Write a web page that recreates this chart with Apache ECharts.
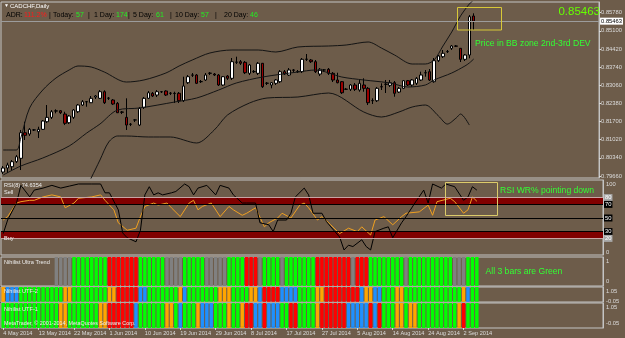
<!DOCTYPE html>
<html>
<head>
<meta charset="utf-8">
<script src="https://cdn.jsdelivr.net/npm/echarts@6/dist/echarts.min.js"></script>
<style>
  html, body { margin: 0; padding: 0; background: #6d5c4a; }
  #chart { width: 625px; height: 338px; }
</style>
</head>
<body>
<div id="chart"></div>
<script>
// ---- data ----
const SLOTS = 136;          // bar slots incl. empty space on the right
const TICK_STEP = 8;        // one date label every 8 bars
const tickLabels = ['4 May 2014', '13 May 2014', '22 May 2014', '1 Jun 2014', '10 Jun 2014', '19 Jun 2014',
  '29 Jun 2014', '8 Jul 2014', '17 Jul 2014', '27 Jul 2014', '5 Aug 2014', '14 Aug 2014', '24 Aug 2014', '2 Sep 2014'];

const opens = [0.79809, 0.79959, 0.80008, 0.80196, 0.80323, 0.81282, 0.81234, 0.81384, 0.81320, 0.81409,
  0.81694, 0.81858, 0.82095, 0.82106, 0.81982, 0.81656, 0.81858, 0.82069, 0.82320, 0.82444,
  0.82406, 0.82620, 0.82571, 0.82819, 0.82571, 0.82508, 0.82384, 0.82058, 0.81858, 0.81596,
  0.81758, 0.81570, 0.82234, 0.82571, 0.82759, 0.82695, 0.82819, 0.82845, 0.82759, 0.82759,
  0.82759, 0.82481, 0.83156, 0.83445, 0.83445, 0.83194, 0.83258, 0.83508, 0.83482, 0.83445,
  0.83070, 0.83407, 0.83321, 0.83921, 0.83944, 0.83921, 0.83508, 0.83569, 0.83508, 0.83884,
  0.83134, 0.83070, 0.83134, 0.83194, 0.83569, 0.83445, 0.83632, 0.83569, 0.83569, 0.84033,
  0.84007, 0.83944, 0.83482, 0.83632, 0.83659, 0.83508, 0.83258, 0.83194, 0.82909, 0.82909,
  0.83070, 0.82883, 0.83070, 0.82946, 0.82481, 0.82481, 0.83006, 0.83096, 0.83059, 0.83156,
  0.82808, 0.82946, 0.83231, 0.83070, 0.83134, 0.83258, 0.83531, 0.83569, 0.83194, 0.83981,
  0.84131, 0.84318, 0.84446, 0.84532, 0.84446, 0.84033, 0.84194, 0.85656];
const closes = [0.79959, 0.80072, 0.80196, 0.80383, 0.81282, 0.81185, 0.81409, 0.81390, 0.81409, 0.81720,
  0.81858, 0.82069, 0.82100, 0.82031, 0.81634, 0.81907, 0.82133, 0.82320, 0.82444, 0.82440,
  0.82571, 0.82658, 0.82819, 0.82406, 0.82580, 0.82358, 0.82031, 0.82050, 0.81570, 0.81600,
  0.81765, 0.82196, 0.82571, 0.82781, 0.82658, 0.82819, 0.82815, 0.82695, 0.82765, 0.82750,
  0.82481, 0.83032, 0.83381, 0.83440, 0.83134, 0.83200, 0.83445, 0.83515, 0.83445, 0.83070,
  0.83381, 0.83321, 0.83944, 0.83930, 0.83884, 0.83531, 0.83820, 0.83575, 0.83884, 0.83006,
  0.83140, 0.83156, 0.83258, 0.83569, 0.83482, 0.83632, 0.83625, 0.83575, 0.84033, 0.84040,
  0.83944, 0.83569, 0.83659, 0.83640, 0.83508, 0.83258, 0.83156, 0.82781, 0.82915, 0.83070,
  0.82909, 0.83134, 0.82946, 0.82406, 0.82490, 0.82946, 0.83000, 0.83100, 0.83156, 0.82759,
  0.82946, 0.83231, 0.83070, 0.83258, 0.83321, 0.83445, 0.83525, 0.83258, 0.83981, 0.84157,
  0.84258, 0.84325, 0.84532, 0.84525, 0.84033, 0.84194, 0.85630, 0.85463];
const lows = [0.79734, 0.79772, 0.79884, 0.80147, 0.79884, 0.81009, 0.81159, 0.81346, 0.81084, 0.81384,
  0.81645, 0.81795, 0.82009, 0.81982, 0.81570, 0.81607, 0.81795, 0.82020, 0.82283, 0.82256,
  0.82395, 0.82545, 0.82545, 0.82358, 0.82508, 0.82320, 0.82020, 0.81982, 0.81384, 0.81532,
  0.81683, 0.81532, 0.82170, 0.82545, 0.82620, 0.82620, 0.82770, 0.82658, 0.82695, 0.82395,
  0.82395, 0.82433, 0.83107, 0.83370, 0.83107, 0.83145, 0.83220, 0.83445, 0.83407, 0.83032,
  0.83032, 0.83258, 0.83258, 0.83857, 0.83820, 0.83482, 0.83445, 0.83520, 0.83445, 0.82958,
  0.83070, 0.82946, 0.83070, 0.83145, 0.83445, 0.83407, 0.83557, 0.83520, 0.83520, 0.83970,
  0.83895, 0.83520, 0.83407, 0.83557, 0.83445, 0.83182, 0.83134, 0.82733, 0.82883, 0.82845,
  0.82845, 0.82819, 0.82819, 0.82320, 0.82358, 0.82433, 0.82883, 0.82770, 0.82995, 0.82631,
  0.82770, 0.82920, 0.83032, 0.83006, 0.83070, 0.83220, 0.83381, 0.83220, 0.83156, 0.83932,
  0.84082, 0.84270, 0.84382, 0.84494, 0.83932, 0.83970, 0.84071, 0.85132];
const highs = [0.80034, 0.80158, 0.80259, 0.80447, 0.81384, 0.81694, 0.81457, 0.81420, 0.81506, 0.81758,
  0.82320, 0.82133, 0.82159, 0.82133, 0.82069, 0.81945, 0.82170, 0.82358, 0.82508, 0.82470,
  0.82658, 0.82695, 0.82883, 0.82871, 0.82620, 0.82545, 0.82433, 0.82095, 0.82571, 0.81645,
  0.81795, 0.82245, 0.82620, 0.82845, 0.82808, 0.82883, 0.82845, 0.82871, 0.82808, 0.82819,
  0.82808, 0.83381, 0.83445, 0.83520, 0.83482, 0.83258, 0.83520, 0.83557, 0.83520, 0.83482,
  0.83407, 0.83445, 0.84082, 0.84131, 0.84007, 0.83970, 0.83857, 0.83632, 0.83932, 0.83895,
  0.83182, 0.83182, 0.83295, 0.83632, 0.83632, 0.83707, 0.83670, 0.83632, 0.84082, 0.84232,
  0.84045, 0.84007, 0.83707, 0.83670, 0.83707, 0.83557, 0.83531, 0.83220, 0.82958, 0.83107,
  0.83145, 0.83258, 0.83321, 0.82995, 0.82571, 0.82995, 0.83134, 0.83258, 0.83258, 0.83220,
  0.82995, 0.83258, 0.83258, 0.83295, 0.83370, 0.83569, 0.83632, 0.83670, 0.84082, 0.84194,
  0.84382, 0.84382, 0.84569, 0.84569, 0.84457, 0.84232, 0.85694, 0.85757];
const lastPrice = 0.85463;
const priceTicks = [0.79660, 0.80340, 0.81020, 0.81700, 0.82380, 0.83060, 0.83740, 0.84420, 0.85100, 0.85780];

// Bollinger bands, [bar, price] read at selected bars
const bbUpper = [[0, 0.80634], [3, 0.80634], [4, 0.81084], [6, 0.82208], [9, 0.82883], [12, 0.83332],
  [15, 0.83632], [17, 0.83782], [20, 0.83745], [23, 0.83557], [28, 0.83182], [32, 0.83258], [37, 0.83520],
  [40, 0.83782], [43, 0.84007], [47, 0.84270], [52, 0.84382], [58, 0.84382], [62, 0.84307], [67, 0.84494],
  [74, 0.84532], [78, 0.84569], [83, 0.84682], [86, 0.84457], [89, 0.84194], [93, 0.83857], [96, 0.83857],
  [98, 0.84007], [100, 0.84532], [102, 0.85057], [104, 0.85656], [106, 0.86106], [107, 0.86256]];
const bbMiddle = [[0, 0.79697], [4, 0.80034], [9, 0.80334], [15, 0.80784], [19, 0.81272], [22, 0.81607],
  [26, 0.82133], [31, 0.82208], [39, 0.82433], [44, 0.82583], [49, 0.82883], [53, 0.83145], [59, 0.83370],
  [67, 0.83557], [71, 0.83632], [77, 0.83370], [82, 0.83258], [88, 0.83145], [92, 0.82995], [96, 0.83070],
  [98, 0.83258], [102, 0.83520], [105, 0.83782], [106, 0.83895], [107, 0.84045]];
const bbLower = [[18, 0.78948], [20, 0.79585], [22, 0.80259], [24, 0.80934], [26, 0.81159], [28, 0.81159],
  [33, 0.81122], [38, 0.81122], [44, 0.80897], [48, 0.81384], [51, 0.81945], [56, 0.82395], [60, 0.82583],
  [67, 0.82620], [74, 0.82770], [82, 0.82058], [86, 0.81870], [90, 0.82058], [93, 0.82245], [96, 0.82320],
  [99, 0.81907], [101, 0.81607], [103, 0.81832], [104, 0.81982], [106, 0.81570]];

// RSI(8) and WPR, [bar, value]
const rsiLine = [[0, 47], [1, 52], [3, 72], [4, 74], [6, 76], [7, 76], [9, 81], [11, 84], [13, 81], [14, 65],
  [16, 72], [17, 79], [20, 81], [22, 84], [23, 76], [25, 62], [26, 43], [28, 32], [30, 35], [31, 52], [32, 67],
  [34, 72], [35, 69], [37, 72], [38, 65], [40, 52], [42, 72], [43, 76], [44, 62], [45, 67], [47, 72], [49, 52],
  [51, 67], [52, 62], [54, 54], [55, 57], [57, 65], [59, 37], [60, 43], [62, 50], [63, 57], [65, 50], [67, 69],
  [68, 72], [69, 65], [71, 47], [72, 52], [74, 40], [76, 27], [78, 35], [80, 30], [81, 37], [83, 25], [84, 47],
  [86, 52], [88, 40], [90, 52], [91, 57], [94, 59], [96, 69], [97, 54], [98, 74], [101, 79], [102, 74],
  [104, 57], [105, 62], [106, 81], [107, 74.64]];
const wprLine = [[0, 27], [1, 47], [3, 72], [4, 98], [6, 81], [7, 91], [9, 94], [11, 98], [13, 94], [15, 97],
  [17, 100], [20, 100], [22, 100], [23, 87], [24, 87], [26, 62], [27, 28], [28, 21], [30, 15], [31, 32],
  [32, 84], [33, 96], [34, 84], [35, 87], [36, 84], [38, 87], [39, 89], [41, 100], [42, 96], [43, 84],
  [44, 94], [46, 98], [48, 84], [49, 98], [51, 94], [52, 84], [54, 72], [55, 72], [57, 72], [58, 43],
  [60, 40], [61, 30], [62, 47], [64, 47], [65, 57], [66, 81], [68, 94], [69, 84], [70, 57], [72, 57],
  [73, 45], [74, 37], [76, 22], [77, 3], [78, 10], [79, 8], [81, 18], [82, 8], [83, 3], [84, 30], [86, 35],
  [87, 37], [88, 21], [90, 43], [91, 52], [93, 72], [95, 91], [96, 72], [97, 100], [99, 94], [100, 100],
  [102, 96], [104, 76], [105, 81], [106, 96], [107, 91]];
const rsiLevels = [80, 70, 50, 30, 20];

// colour state per bar: n none, g green, r red, s grey, o orange, b blue
const utState   = ('nnnnnnnnnn' + 'nnssssgggg' + 'ggggrrrrrr' + 'rggggggsss' + 'sgggggssss' +
  'sggggrrrsg' + 'gggsgggggg' + 'grrrrrrrrs' + 'rrrggggggg' + 'gsgggggggg' + 'ggsssggg').split('');
const utf2State = ('obbbgggggg' + 'ggggoogggg' + 'ggggoorrrr' + 'rbbggggggg' + 'obgggggggo' +
  'ooggggoobr' + 'rrrbbbbggg' + 'goorrrrrrr' + 'rboobbgggo' + 'oggggggggg' + 'ggggobgg').split('');
const utf1State = ('gggggggggg' + 'gggooggggg' + 'ggoorrrrrr' + 'bggggggoog' + 'bgggobbbgg' +
  'goggorrbbr' + 'bbbggrrggg' + 'gorrrrrrbb' + 'bbbrbrgggo' + 'ogoogggggg' + 'gggorggg').split('');

// ---- chart ----
const FONT = 'Liberation Sans';
const LIGHT = '#dcdcdc';
const BORDER = '#c4c4c4';
const palette = { g: '#00ff00', r: '#ff0000', s: '#808080', o: '#ffa500', b: '#1e90ff' };
const slots = Array.from({ length: SLOTS }, (_, i) => i);
const candles = opens.map((o, i) => [o, closes[i], lows[i], highs[i]]);

const grids = [
  { left: 1, right: 22, top: 2, height: 176 },
  { left: 1, right: 22, top: 180, height: 75 },
  { left: 1, right: 22, top: 257, height: 29 },
  { left: 1, right: 22, top: 287, height: 15 },
  { left: 1, right: 22, top: 303, height: 25 }
].map(g => Object.assign(g, { show: true, borderColor: BORDER, borderWidth: 1 }));

const xAxes = grids.map((g, i) => ({
  type: 'category', gridIndex: i, data: slots, boundaryGap: true,
  axisLine: { show: false }, splitLine: { show: false },
  axisTick: i === 4 ? { show: true, alignWithLabel: true, length: 3, lineStyle: { color: LIGHT },
    interval: idx => idx % TICK_STEP === 0 && idx / TICK_STEP < tickLabels.length } : { show: false },
  axisLabel: i === 4 ? {
    show: true, color: LIGHT, fontFamily: FONT, fontSize: 5.6, margin: 2, align: 'left',
    interval: idx => idx % TICK_STEP === 0 && idx / TICK_STEP < tickLabels.length,
    formatter: (v, idx) => tickLabels[idx / TICK_STEP] || ''
  } : { show: false }
}));

function edgeLabels(top, bot, shiftTop, shiftBot, digits) {
  return {
    show: true, customValues: [bot, top], margin: 3,
    formatter: v => (Math.abs(v - top) < 1e-9 ? '{t|' : '{b|') + v.toFixed(digits) + '}',
    rich: {
      t: { fontFamily: FONT, fontSize: 5.8, color: LIGHT, padding: [shiftTop * 2, 0, 0, 0] },
      b: { fontFamily: FONT, fontSize: 5.8, color: LIGHT, padding: [0, 0, shiftBot * 2, 0] }
    }
  };
}

const yBase = { type: 'value', position: 'right', splitLine: { show: false },
  axisLine: { show: true, lineStyle: { color: BORDER } } };

const yAxes = [
  Object.assign({}, yBase, { gridIndex: 0, min: 0.79585, max: 0.86181,
    axisTick: { show: true, customValues: priceTicks, length: 2, lineStyle: { color: LIGHT } },
    axisLabel: { show: true, customValues: priceTicks, color: LIGHT, fontFamily: FONT, fontSize: 5.8, margin: 2,
      formatter: v => v.toFixed(5) } }),
  Object.assign({}, yBase, { gridIndex: 1, min: -4.41, max: 105.88, axisTick: { show: false },
    axisLabel: { show: true, customValues: [0, 100], color: LIGHT, fontFamily: FONT, fontSize: 5.8, margin: 3 } }),
  Object.assign({}, yBase, { gridIndex: 2, min: 0, max: 1, axisTick: { show: false },
    axisLabel: edgeLabels(1, 0, 4.7, 4.3, 0) }),
  Object.assign({}, yBase, { gridIndex: 3, min: -0.05, max: 1.05, axisTick: { show: false },
    axisLabel: edgeLabels(1.05, -0.05, 4.3, 1, 2) }),
  Object.assign({}, yBase, { gridIndex: 4, min: -0.05, max: 1.05, axisTick: { show: false },
    axisLabel: edgeLabels(1.05, -0.05, 4.7, 4.7, 2) })
];

function stateBars(state, idx, top, bot) {
  const mk = val => state.map(c => c === 'n' ? '-' : { value: val, itemStyle: { color: palette[c] } });
  const out = [{ type: 'bar', xAxisIndex: idx, yAxisIndex: idx, barWidth: 3.4, barGap: '-100%',
    silent: true, data: mk(top) }];
  if (bot < 0) out.push({ type: 'bar', xAxisIndex: idx, yAxisIndex: idx, barWidth: 3.4, barGap: '-100%',
    silent: true, data: mk(bot) });
  return out;
}

const bandLine = data => ({ type: 'line', xAxisIndex: 0, yAxisIndex: 0, data: data, smooth: 0.3,
  symbol: 'none', silent: true, lineStyle: { color: '#141414', width: 1 } });

const levelLabel = (bg) => ({ show: true, position: 'end', distance: 1, formatter: '{c}', color: '#fff',
  backgroundColor: bg, fontFamily: FONT, fontSize: 5.8, padding: [1, 1, 0, 1] });

// current price line lives on the middle band series
const middleBand = bandLine(bbMiddle);
middleBand.markLine = { silent: true, symbol: ['none', 'none'], animation: false, precision: 5,
  lineStyle: { color: '#9c9c9c', type: 'solid', width: 1 },
  label: { show: true, position: 'end', distance: 1, formatter: lastPrice.toFixed(5), color: '#000',
    backgroundColor: '#ffffff', fontFamily: FONT, fontSize: 5.8, padding: [1, 1, 0, 1] },
  data: [{ yAxis: lastPrice }] };

const series = [
  middleBand, bandLine(bbUpper), bandLine(bbLower),
  { type: 'candlestick', xAxisIndex: 0, yAxisIndex: 0, data: candles, barWidth: 3,
    itemStyle: { color: '#ffffff', color0: '#9a0000', borderColor: '#000000', borderColor0: '#000000', borderWidth: 1 } },
  { type: 'line', xAxisIndex: 1, yAxisIndex: 1, data: rsiLine, symbol: 'none', silent: true,
    lineStyle: { color: '#f0a020', width: 1 },
    markArea: { silent: true, itemStyle: { color: '#800000' },
      data: [[{ yAxis: rsiLevels[1] }, { yAxis: rsiLevels[0] }], [{ yAxis: rsiLevels[4] }, { yAxis: rsiLevels[3] }]] },
    markLine: { silent: true, symbol: ['none', 'none'], animation: false, precision: 0,
      data: rsiLevels.map(v => {
        const grey = v === 80 || v === 20;
        return { yAxis: v, lineStyle: { color: grey ? '#c8a4a4' : '#000000', type: 'solid', width: 1 },
          label: levelLabel(grey ? '#a8a8a8' : '#000000') };
      }) } },
  { type: 'line', xAxisIndex: 1, yAxisIndex: 1, data: wprLine, symbol: 'none', silent: true,
    lineStyle: { color: '#000000', width: 1 } }
].concat(stateBars(utState, 2, 1, 0), stateBars(utf2State, 3, 1.05, -0.05), stateBars(utf1State, 4, 1.05, -0.05));

// text overlays
const t = (text, x, y, fill, size) => ({ type: 'text', x: x, y: y, z: 100, silent: true,
  style: { text: text, fill: fill, font: size + 'px "' + FONT + '"', textVerticalAlign: 'middle', verticalAlign: 'middle' } });
const GREEN = '#22ee22';
const header = [['ADR:', 6, '#000'], ['111.2%', 24, '#ff1a1a'], ['|', 49, '#000'], ['Today:', 53, '#000'],
  ['57', 76, GREEN], ['|', 88, '#000'], ['1 Day:', 94, '#000'], ['174', 116, GREEN], ['|', 128, '#000'],
  ['5 Day:', 133, '#000'], ['61', 156, GREEN], ['|', 170, '#000'], ['10 Day:', 175, '#000'], ['57', 201, GREEN],
  ['|', 215, '#000'], ['20 Day:', 224, '#000'], ['46', 250, GREEN]];

const graphic = [
  t('\u25BC', 4, 6, '#fff', 5),
  t('CADCHF,Daily', 10, 6, '#fff', 6),
  ...header.map(h => t(h[0], h[1], 15, h[2], 7)),
  { type: 'text', x: 600, y: 12, z: 100, silent: true, style: { text: lastPrice.toFixed(5), fill: '#66ff00',
      font: '11.5px "' + FONT + '"', textAlign: 'right', align: 'right', textVerticalAlign: 'middle', verticalAlign: 'middle' } },
  { type: 'rect', z: 100, silent: true, shape: { x: 457.5, y: 7.5, width: 44, height: 22.5 },
    style: { fill: 'none', stroke: '#d8c838', lineWidth: 1 } },
  t('Price in BB zone 2nd-3rd DEV', 475, 44, '#33ff33', 8.6),
  { type: 'rect', z: 100, silent: true, shape: { x: 445.5, y: 182.5, width: 52, height: 33 },
    style: { fill: 'none', stroke: '#dccb6a', lineWidth: 1 } },
  t('RSI WR% pointing down', 500, 191, '#33ff33', 8.6),
  t('RSI(8) 74.6354', 4, 185, '#eee', 5.6),
  t('Sell', 4, 192.5, '#eee', 5.6),
  t('Buy', 4, 238, '#eee', 5.6),
  t('Nihilist Ultra Trend', 4, 262.5, '#eee', 5.6),
  t('All 3 bars are Green', 485.5, 271.5, '#33ff33', 8.6),
  t('Nihilist UTF-2', 4, 291.5, '#eee', 5.6),
  t('Nihilist UTF-1', 4, 309, '#eee', 5.6),
  t('MetaTrader, \u00A9 2001-2014, MetaQuotes Software Corp.', 4, 324, '#eee', 5.4)
];

const chart = echarts.init(document.getElementById('chart'), null, { renderer: 'canvas' });
chart.setOption({
  backgroundColor: '#6d5c4a',
  animation: false,
  grid: grids,
  xAxis: xAxes,
  yAxis: yAxes,
  series: series,
  graphic: graphic
});
</script>
</body>
</html>
